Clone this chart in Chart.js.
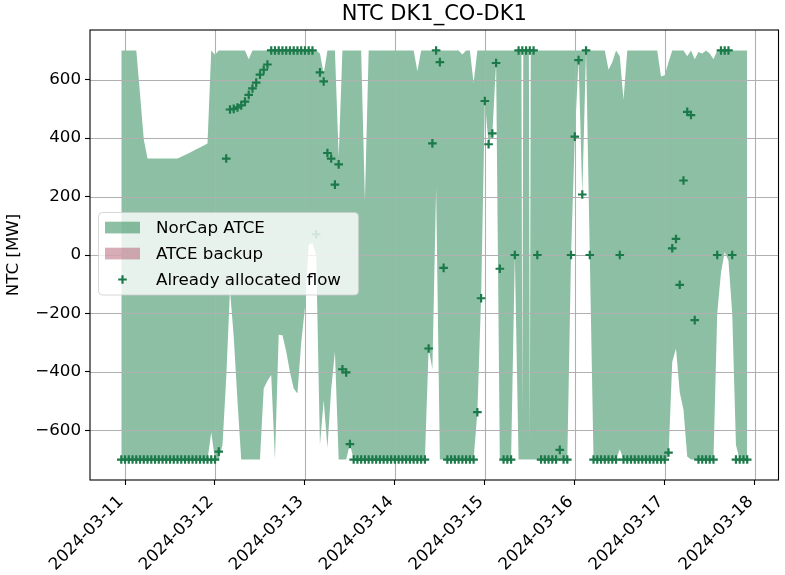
<!DOCTYPE html>
<html>
<head>
<meta charset="utf-8">
<title>NTC DK1_CO-DK1</title>
<script src="https://cdn.jsdelivr.net/npm/chart.js@4.4.1/dist/chart.umd.min.js"></script>
<style>
    html, body { margin: 0; padding: 0; background: #fff; }
    #ntcChart { display: block; }
</style>
</head>
<body>
<canvas id="ntcChart" width="785" height="575"></canvas>
<script>
// Hourly values, first hour is 2024-03-10 23:00 (hour -1 relative to 2024-03-11 00:00)
const firstHour = -1;
const dayLabels = ['2024-03-11', '2024-03-12', '2024-03-13', '2024-03-14', '2024-03-15', '2024-03-16', '2024-03-17', '2024-03-18'];
const yTicks = [-600, -400, -200, 0, 200, 400, 600];

const norcapUpper = [
    700, 700, 700, 700, 700, 550, 395, 330, 330, 330, 330, 330,
    330, 330, 330, 330, 336, 342, 348, 355, 362, 368, 375, 382,
    700, 685, 700, 700, 700, 700, 700, 700, 700, 700, 670, 700,
    700, 700, 700, 700, 700, 700, 700, 700, 700, 700, 700, 700,
    700, 700, 700, 700, 700, 690, 620, 700, 700, 700, 335, 700,
    700, 700, 700, 700, 700, 186, 700, 700, 700, 700, 700, 700,
    700, 700, 700, 700, 700, 700, 700, 629, 700, 700, 700, 700,
    700, 700, 700, 700, 700, 700, 700, 686, 700, 700, 589, 700,
    700, 700, 700, 700, 700, 700, 700, 700, 700, 700, 700, -549,
    700, -641, 700, 700, 700, 700, 700, 700, 700, 700, 700, 700,
    700, 700, 700, 700, 700, 700, 700, 700, 700, 700, 634, 660,
    700, 680, 531, 700, 700, 700, 700, 700, 700, 700, 700, 700,
    611, 615, 660, 700, 700, 700, 700, 680, 700, 670, 695, 690,
    700, 690, 670, 700, 700, 700, 700, 700, 700, 700, 700, 700
];

const norcapLower = [
    -700, -700, -700, -700, -700, -700, -700, -700, -700, -700, -700, -700,
    -700, -700, -700, -700, -700, -700, -700, -700, -700, -700, -700, -700,
    -607, -700, -700, -650, -420, -120, -280, -500, -700, -700, -700, -700,
    -700, -700, -457, -430, -411, -700, -273, -275, -330, -400, -457, -474,
    -300, -180, 35, 40, 0, -650, -497, -660, -460, -331, -700, -700,
    -700, -647, -700, -700, -700, -700, -700, -700, -700, -700, -700, -700,
    -700, -700, -700, -700, -700, -700, -700, -700, -700, -700, -320, -390,
    232, -700, -700, -700, -700, -700, -700, -700, -700, -700, -700, -538,
    -148, 527, 379, 416, 657, -700, -700, -700, -700, 0, -700, -700,
    -700, -700, -700, -700, -700, -700, -700, -700, -700, -700, -700, -700,
    0, 405, 667, 207, 700, 0, -700, -700, -700, -700, -700, -700,
    -700, -665, -700, -700, -700, -700, -700, -700, -700, -700, -700, -700,
    -700, -700, -690, -366, -320, -470, -530, -690, -700, -700, -700, -700,
    -700, -700, -700, -200, -60, 10, -20, -200, -650, -700, -700, -700
];

// the two very short dips on 2024-03-15 last only a quarter of an hour
const upperQuarterPoints = [[105.75, 700], [106.25, 700], [107.75, 700], [108.25, 700]];
const lowerQuarterPoints = [[105.75, -700], [106.25, -700], [107.75, -700], [108.25, -700]];

const allocatedFlow = [
    -700, -700, -700, -700, -700, -700, -700, -700, -700, -700, -700, -700,
    -700, -700, -700, -700, -700, -700, -700, -700, -700, -700, -700, -700,
    -700, -700, -673, null, 330, 498, 500, 505, 512, 525, 548, 570,
    590, 617, 634, 652, 700, 700, 700, 700, 700, 700, 700, 700,
    700, 700, 700, 700, 71, 625, 594, 349, 330, 241, 310, -391,
    -402, -647, -700, -700, -700, -700, -700, -700, -700, -700, -700, -700,
    -700, -700, -700, -700, -700, -700, -700, -700, -700, -700, -320, 382,
    700, 660, -44, -700, -700, -700, -700, -700, -700, -700, -700, -538,
    -148, 527, 379, 416, 657, -47, -700, -700, -700, 0, 700, 700,
    700, 700, 700, 0, -700, -700, -700, -700, -700, -667, -700, -700,
    0, 405, 667, 207, 700, 0, -700, -700, -700, -700, -700, -700,
    -700, 0, -700, -700, -700, -700, -700, -700, -700, -700, -700, -700,
    -700, -700, -676, 23, 55, -102, 255, 490, 479, -223, -700, -700,
    -700, -700, -700, 0, 700, 700, 700, 0, -700, -700, -700, -700
];

// no backup values in this period
const backupUpper = [];
const backupLower = [];

const FONT = "'DejaVu Sans', sans-serif";
const fillGreen = 'rgba(46, 139, 87, 0.55)';
const fillPink = 'rgba(165, 60, 85, 0.42)';
const markerGreen = '#1c7a4a';

const toPoints = arr => arr.map((v, i) => ({ x: firstHour + i, y: v }));
const withExtra = (arr, extra) => toPoints(arr)
    .concat(extra.map(([x, y]) => ({ x, y })))
    .sort((a, b) => a.x - b.x);

// grid drawn above the filled band, like matplotlib does
const gridOverFill = {
    id: 'gridOverFill',
    beforeDatasetDraw(chart, args) {
        if (args.index !== 0) return;
        const { ctx, chartArea: a, scales: { x, y } } = chart;
        ctx.save();
        ctx.beginPath();
        ctx.rect(a.left, a.top, a.width, a.height);
        ctx.clip();
        ctx.strokeStyle = '#b0b0b0';
        ctx.lineWidth = 1.1;
        ctx.beginPath();
        x.ticks.forEach(t => {
            const px = Math.round(x.getPixelForValue(t.value)) + 0.5;
            ctx.moveTo(px, a.top);
            ctx.lineTo(px, a.bottom);
        });
        y.ticks.forEach(t => {
            const py = Math.round(y.getPixelForValue(t.value)) + 0.5;
            ctx.moveTo(a.left, py);
            ctx.lineTo(a.right, py);
        });
        ctx.stroke();
        ctx.restore();
    }
};

// axes frame, title over the plot area and legend box inside the plot
const frameAndLegend = {
    id: 'frameAndLegend',
    afterDraw(chart) {
        const { ctx, chartArea: a } = chart;
        ctx.save();
        ctx.strokeStyle = '#000';
        ctx.lineWidth = 1.1;
        ctx.strokeRect(a.left, a.top, a.width, a.height);

        ctx.fillStyle = '#000';
        ctx.font = `21px ${FONT}`;
        ctx.textAlign = 'center';
        ctx.textBaseline = 'alphabetic';
        ctx.fillText('NTC DK1_CO-DK1', (a.left + a.right) / 2, 20);

        const bx = 98.5, by = 212.5, bw = 260, bh = 82.5, r = 4;
        ctx.beginPath();
        ctx.moveTo(bx + r, by);
        ctx.arcTo(bx + bw, by, bx + bw, by + bh, r);
        ctx.arcTo(bx + bw, by + bh, bx, by + bh, r);
        ctx.arcTo(bx, by + bh, bx, by, r);
        ctx.arcTo(bx, by, bx + bw, by, r);
        ctx.closePath();
        ctx.fillStyle = 'rgba(255, 255, 255, 0.8)';
        ctx.fill();
        ctx.strokeStyle = 'rgba(204, 204, 204, 0.8)';
        ctx.lineWidth = 1;
        ctx.stroke();

        const rows = [227.5, 253.5, 279.5];
        ctx.fillStyle = fillGreen;
        ctx.fillRect(105, rows[0] - 5.8, 35, 11.7);
        ctx.fillStyle = fillPink;
        ctx.fillRect(105, rows[1] - 5.8, 35, 11.7);

        ctx.strokeStyle = markerGreen;
        ctx.lineWidth = 2.2;
        ctx.beginPath();
        ctx.moveTo(122.5 - 4.3, rows[2]);
        ctx.lineTo(122.5 + 4.3, rows[2]);
        ctx.moveTo(122.5, rows[2] - 4.3);
        ctx.lineTo(122.5, rows[2] + 4.3);
        ctx.stroke();

        ctx.fillStyle = '#000';
        ctx.font = `16.7px ${FONT}`;
        ctx.textBaseline = 'middle';
        ctx.textAlign = 'left';
        ['NorCap ATCE', 'ATCE backup', 'Already allocated flow'].forEach((txt, k) => {
            ctx.fillText(txt, 156, rows[k] + 1);
        });
        ctx.restore();
    }
};

document.addEventListener('DOMContentLoaded', () => {
    const ctx = document.getElementById('ntcChart').getContext('2d');

    new Chart(ctx, {
        type: 'line',
        data: {
            datasets: [
                {
                    label: 'Already allocated flow',
                    data: toPoints(allocatedFlow),
                    showLine: false,
                    pointStyle: 'cross',
                    pointRadius: 4.3,
                    pointBorderWidth: 2.2,
                    pointBorderColor: markerGreen,
                    pointBackgroundColor: markerGreen
                },
                {
                    label: 'NorCap ATCE',
                    data: withExtra(norcapUpper, upperQuarterPoints),
                    borderColor: 'rgba(0,0,0,0)',
                    borderWidth: 0,
                    backgroundColor: fillGreen,
                    pointRadius: 0,
                    tension: 0,
                    fill: '+1'
                },
                {
                    label: 'NorCap ATCE lower',
                    data: withExtra(norcapLower, lowerQuarterPoints),
                    borderColor: 'rgba(0,0,0,0)',
                    borderWidth: 0,
                    pointRadius: 0,
                    tension: 0,
                    fill: false
                },
                {
                    label: 'ATCE backup',
                    data: toPoints(backupUpper),
                    borderColor: 'rgba(0,0,0,0)',
                    backgroundColor: fillPink,
                    pointRadius: 0,
                    fill: '+1'
                },
                {
                    label: 'ATCE backup lower',
                    data: toPoints(backupLower),
                    borderColor: 'rgba(0,0,0,0)',
                    pointRadius: 0,
                    fill: false
                }
            ]
        },
        options: {
            responsive: false,
            animation: false,
            events: [],
            layout: { padding: { left: 0, right: 5, top: 30, bottom: 0 } },
            plugins: {
                legend: { display: false },
                tooltip: { enabled: false },
                title: { display: false }
            },
            scales: {
                x: {
                    type: 'linear',
                    min: -9.35,
                    max: 174.35,
                    afterBuildTicks: axis => {
                        axis.ticks = dayLabels.map((_, k) => ({ value: k * 24 }));
                    },
                    afterFit: axis => { axis.height = 95; },
                    border: { display: false },
                    grid: { drawOnChartArea: false, tickLength: 5, tickColor: '#000', tickWidth: 1.1 },
                    ticks: {
                        autoSkip: false,
                        minRotation: 45,
                        maxRotation: 45,
                        padding: 7,
                        labelOffset: -4,
                        color: '#000',
                        font: { family: FONT, size: 16.7 },
                        callback: value => dayLabels[Math.round(value / 24)]
                    }
                },
                y: {
                    type: 'linear',
                    min: -770,
                    max: 770,
                    afterBuildTicks: axis => {
                        axis.ticks = yTicks.map(v => ({ value: v }));
                    },
                    afterFit: axis => { axis.width = 90; },
                    border: { display: false },
                    grid: { drawOnChartArea: false, tickLength: 5, tickColor: '#000', tickWidth: 1.1 },
                    ticks: {
                        padding: 4,
                        color: '#000',
                        font: { family: FONT, size: 16.7 },
                        callback: value => String(value).replace('-', '\u2212')
                    },
                    title: {
                        display: true,
                        text: 'NTC [MW]',
                        color: '#000',
                        font: { family: FONT, size: 16.7 },
                        padding: { top: 4, bottom: 0 }
                    }
                }
            }
        },
        plugins: [gridOverFill, frameAndLegend]
    });
});
</script>
</body>
</html>
